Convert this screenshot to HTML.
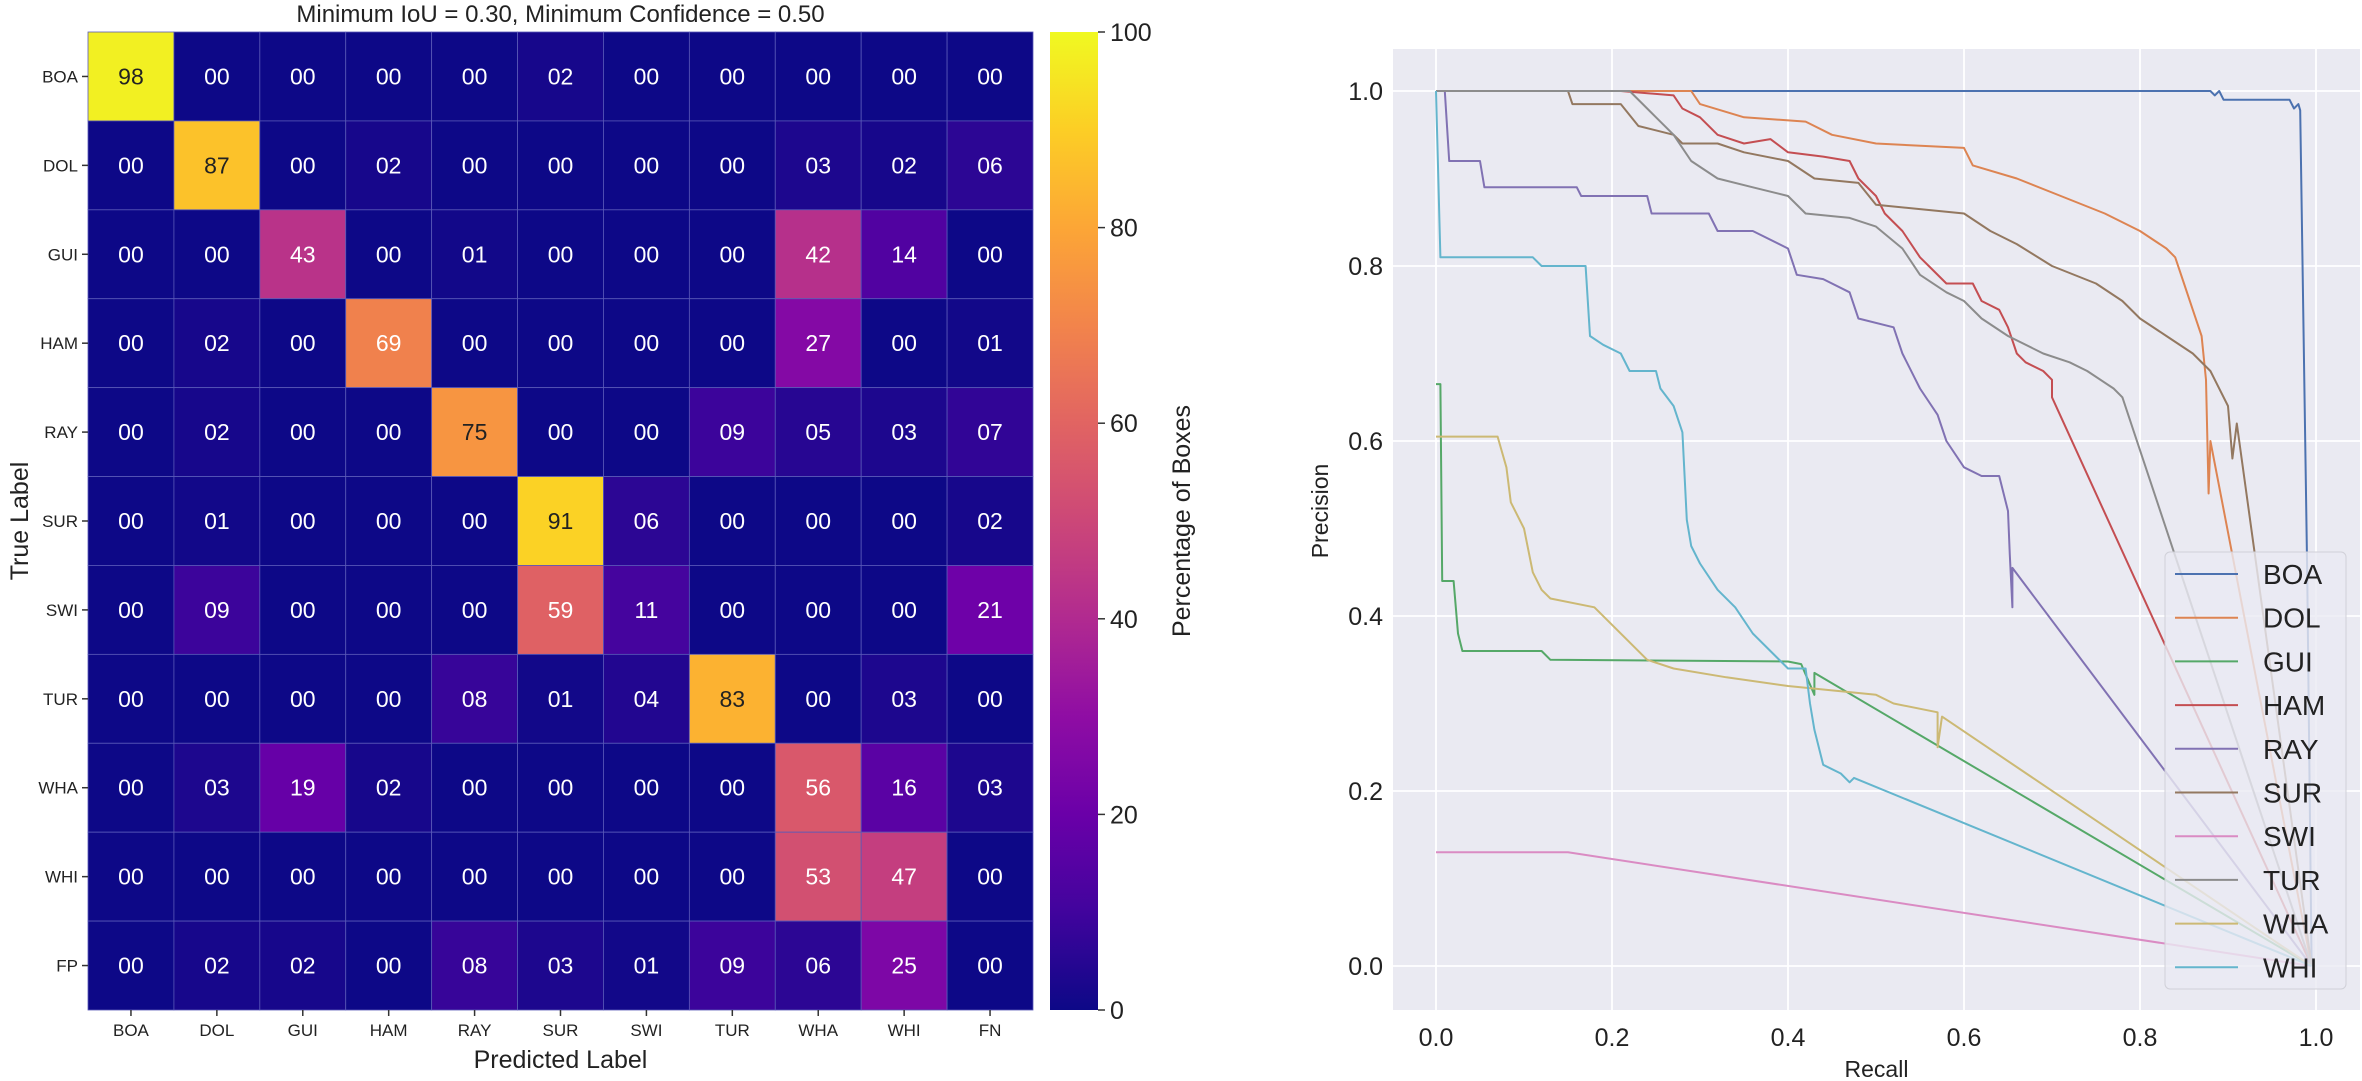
<!DOCTYPE html>
<html><head><meta charset="utf-8"><style>
html,body{margin:0;padding:0;background:#fff;}
svg{display:block;font-family:"Liberation Sans",Arial,sans-serif;}
</style></head><body>
<svg id="fig" width="2362" height="1081" viewBox="0 0 2362 1081" xmlns="http://www.w3.org/2000/svg"></svg>
<script>
const rowLabels=["BOA","DOL","GUI","HAM","RAY","SUR","SWI","TUR","WHA","WHI","FP"];
const colLabels=["BOA","DOL","GUI","HAM","RAY","SUR","SWI","TUR","WHA","WHI","FN"];
const matrix=[
[98,0,0,0,0,2,0,0,0,0,0],
[0,87,0,2,0,0,0,0,3,2,6],
[0,0,43,0,1,0,0,0,42,14,0],
[0,2,0,69,0,0,0,0,27,0,1],
[0,2,0,0,75,0,0,9,5,3,7],
[0,1,0,0,0,91,6,0,0,0,2],
[0,9,0,0,0,59,11,0,0,0,21],
[0,0,0,0,8,1,4,83,0,3,0],
[0,3,19,2,0,0,0,0,56,16,3],
[0,0,0,0,0,0,0,0,53,47,0],
[0,2,2,0,8,3,1,9,6,25,0]];
const cbTicks=[0,20,40,60,80,100];
const prTicks=[0,0.2,0.4,0.6,0.8,1.0];
const seriesNames=["BOA","DOL","GUI","HAM","RAY","SUR","SWI","TUR","WHA","WHI"];
const seriesColors=["#4c72b0","#dd8452","#55a868","#c44e52","#8172b3","#937860","#da8bc3","#8c8c8c","#ccb974","#64b5cd"];
const recallBOA=[0,0.88,0.885,0.89,0.895,0.97,0.975,0.98,0.982,0.99,0.995];
const precBOA=[1,1,0.995,1,0.99,0.99,0.98,0.985,0.978,0.45,0];
const recallDOL=[0,0.29,0.3,0.35,0.42,0.45,0.5,0.6,0.61,0.66,0.71,0.76,0.8,0.83,0.84,0.85,0.86,0.87,0.875,0.878,0.88,0.995];
const precDOL=[1,1,0.985,0.97,0.965,0.95,0.94,0.935,0.915,0.9,0.88,0.86,0.84,0.82,0.81,0.78,0.75,0.72,0.67,0.54,0.6,0];
const recallGUI=[0,0.005,0.007,0.02,0.025,0.03,0.12,0.13,0.4,0.415,0.43,0.43,0.995];
const precGUI=[0.665,0.665,0.44,0.44,0.38,0.36,0.36,0.35,0.348,0.345,0.31,0.335,0];
const recallHAM=[0,0.21,0.27,0.28,0.3,0.32,0.35,0.38,0.4,0.44,0.47,0.48,0.5,0.51,0.53,0.55,0.56,0.58,0.61,0.62,0.64,0.65,0.66,0.67,0.69,0.7,0.7,0.995];
const precHAM=[1,1,0.995,0.98,0.97,0.95,0.94,0.945,0.93,0.925,0.92,0.9,0.88,0.86,0.84,0.81,0.8,0.78,0.78,0.76,0.75,0.73,0.7,0.69,0.68,0.67,0.65,0];
const recallRAY=[0,0.01,0.015,0.05,0.055,0.16,0.165,0.24,0.245,0.31,0.32,0.36,0.4,0.41,0.44,0.47,0.48,0.52,0.53,0.55,0.57,0.58,0.6,0.62,0.64,0.65,0.652,0.655,0.655,0.995];
const precRAY=[1,1,0.92,0.92,0.89,0.89,0.88,0.88,0.86,0.86,0.84,0.84,0.82,0.79,0.785,0.77,0.74,0.73,0.7,0.66,0.63,0.6,0.57,0.56,0.56,0.52,0.47,0.41,0.455,0];
const recallSUR=[0,0.15,0.155,0.21,0.23,0.27,0.28,0.32,0.35,0.4,0.43,0.48,0.5,0.55,0.6,0.63,0.66,0.7,0.75,0.78,0.8,0.83,0.86,0.88,0.9,0.905,0.91,0.995];
const precSUR=[1,1,0.985,0.985,0.96,0.95,0.94,0.94,0.93,0.92,0.9,0.895,0.87,0.865,0.86,0.84,0.825,0.8,0.78,0.76,0.74,0.72,0.7,0.68,0.64,0.58,0.62,0];
const recallSWI=[0,0.15,0.995];
const precSWI=[0.13,0.13,0];
const recallTUR=[0,0.22,0.25,0.27,0.29,0.32,0.36,0.4,0.42,0.47,0.5,0.53,0.55,0.58,0.6,0.62,0.65,0.69,0.72,0.74,0.77,0.78,0.995];
const precTUR=[1,1,0.97,0.95,0.92,0.9,0.89,0.88,0.86,0.855,0.845,0.82,0.79,0.77,0.76,0.74,0.72,0.7,0.69,0.68,0.66,0.65,0];
const recallWHA=[0,0.07,0.08,0.085,0.1,0.11,0.12,0.13,0.18,0.2,0.22,0.24,0.27,0.33,0.4,0.5,0.52,0.57,0.57,0.575,0.995];
const precWHA=[0.605,0.605,0.57,0.53,0.5,0.45,0.43,0.42,0.41,0.39,0.37,0.35,0.34,0.33,0.32,0.31,0.3,0.29,0.25,0.285,0];
const recallWHI=[0,0.005,0.11,0.12,0.17,0.175,0.19,0.21,0.22,0.25,0.255,0.27,0.28,0.285,0.29,0.3,0.32,0.34,0.36,0.38,0.4,0.42,0.425,0.43,0.44,0.46,0.47,0.475,0.995];
const precWHI=[1,0.81,0.81,0.8,0.8,0.72,0.71,0.7,0.68,0.68,0.66,0.64,0.61,0.51,0.48,0.46,0.43,0.41,0.38,0.36,0.34,0.34,0.30,0.27,0.23,0.22,0.21,0.215,0];
const recalls=[recallBOA,recallDOL,recallGUI,recallHAM,recallRAY,recallSUR,recallSWI,recallTUR,recallWHA,recallWHI];
const precs=[precBOA,precDOL,precGUI,precHAM,precRAY,precSUR,precSWI,precTUR,precWHA,precWHI];

const NS="http://www.w3.org/2000/svg";
const svg=document.getElementById('fig');
function mk(tag,attrs,parent,text){const e=document.createElementNS(NS,tag);for(const k in attrs)e.setAttribute(k,attrs[k]);if(text!==undefined)e.textContent=text;(parent||svg).appendChild(e);return e;}
const plasmaStops=["#0d0887","#41049d","#6a00a8","#8f0da4","#b12a90","#cc4778","#e16462","#f2844b","#fca636","#fcce25","#f0f921"];
function hex(h){return [parseInt(h.substr(1,2),16),parseInt(h.substr(3,2),16),parseInt(h.substr(5,2),16)];}
function plasma(t){t=Math.max(0,Math.min(1,t));const p=t*10,i=Math.min(9,Math.floor(p)),f=p-i;const a=hex(plasmaStops[i]),b=hex(plasmaStops[i+1]);return `rgb(${a.map((v,k)=>Math.round(v+(b[k]-v)*f)).join(',')})`;}

// ---- Heatmap ----
const hx0=88,hx1=1033,hy0=32,hy1=1010;
const cw=(hx1-hx0)/colLabels.length, ch=(hy1-hy0)/rowLabels.length;
const hm=mk('g',{},svg);


matrix.forEach((row,r)=>row.forEach((v,c)=>{
  const rc=mk('rect',{x:hx0+c*cw,y:hy0+r*ch,width:cw,height:ch,fill:plasma(v/100),stroke:'#5a5ab8','stroke-width':0.8},hm);
  
  
  const t=mk('text',{x:hx0+(c+0.5)*cw,y:hy0+(r+0.5)*ch+8,'text-anchor':'middle','font-size':23,fill:v>70?'#222':'#fff'},hm,String(v).padStart(2,'0'));
  
  
}));
rowLabels.forEach((l,r)=>{const y=hy0+(r+0.5)*ch;mk('line',{x1:hx0-6,x2:hx0,y1:y,y2:y,stroke:'#333','stroke-width':1.5});
 const t=mk('text',{x:hx0-10,y:y+6,'text-anchor':'end','font-size':17,fill:'#222'},svg,l);
 
 });
colLabels.forEach((l,c)=>{const x=hx0+(c+0.5)*cw;mk('line',{x1:x,x2:x,y1:hy1,y2:hy1+6,stroke:'#333','stroke-width':1.5});
 const t=mk('text',{x:x,y:hy1+26,'text-anchor':'middle','font-size':17,fill:'#222'},svg,l);
 
 });
let t;
t=mk('text',{x:(hx0+hx1)/2,y:22,'text-anchor':'middle','font-size':24,fill:'#222'},svg,'Minimum IoU = 0.30, Minimum Confidence = 0.50');

t=mk('text',{x:(hx0+hx1)/2,y:1068,'text-anchor':'middle','font-size':25,fill:'#222'},svg,'Predicted Label');

t=mk('text',{x:0,y:0,'text-anchor':'middle','font-size':25,fill:'#222',transform:`translate(28,${(hy0+hy1)/2}) rotate(-90)`},svg,'True Label');

const defs=mk('defs',{});const lg=mk('linearGradient',{id:'cb',x1:0,y1:1,x2:0,y2:0},defs);
for(let i=0;i<=20;i++)mk('stop',{offset:i/20,'stop-color':plasma(i/20)},lg);
const cbx=1050,cbw=48;
const cb=mk('rect',{x:cbx,y:hy0,width:cbw,height:hy1-hy0,fill:'url(#cb)'});

cbTicks.forEach(v=>{const y=hy1-(v/100)*(hy1-hy0);mk('line',{x1:cbx+cbw,x2:cbx+cbw+7,y1:y,y2:y,stroke:'#333','stroke-width':1.5});
 const tt=mk('text',{x:cbx+cbw+12,y:y+9,'font-size':25,fill:'#222'},svg,String(v));
 });
t=mk('text',{x:0,y:0,'text-anchor':'middle','font-size':25,fill:'#222',transform:`translate(1190,${(hy0+hy1)/2}) rotate(-90)`},svg,'Percentage of Boxes');


// ---- PR curve ----
const ax0=1393,ax1=2360,ay0=49,ay1=1010;
const X=v=>1436+v*880, Y=v=>966-v*875;
const bg=mk('rect',{x:ax0,y:ay0,width:ax1-ax0,height:ay1-ay0,fill:'#eaeaf2'});

prTicks.forEach(v=>{
 mk('line',{x1:X(v),x2:X(v),y1:ay0,y2:ay1,stroke:'#fff','stroke-width':1.8});
 mk('line',{x1:ax0,x2:ax1,y1:Y(v),y2:Y(v),stroke:'#fff','stroke-width':1.8});
 const a=mk('text',{x:X(v),y:1046,'text-anchor':'middle','font-size':25,fill:'#222'},svg,v.toFixed(1));
 
 const b=mk('text',{x:ax0-10,y:Y(v)+9,'text-anchor':'end','font-size':25,fill:'#222'},svg,v.toFixed(1));
 
});
t=mk('text',{x:(ax0+ax1)/2,y:1077,'text-anchor':'middle','font-size':23,fill:'#222'},svg,'Recall');

t=mk('text',{x:0,y:0,'text-anchor':'middle','font-size':23,fill:'#222',transform:`translate(1328,511) rotate(-90)`},svg,'Precision');

seriesNames.forEach((n,i)=>{
 const pts=recalls[i].map((r,k)=>X(r).toFixed(1)+','+Y(precs[i][k]).toFixed(1)).join(' ');
 const pl=mk('polyline',{points:pts,fill:'none',stroke:seriesColors[i],'stroke-width':2,'stroke-linejoin':'round'});
 
 
});
const leg=mk('g',{});


mk('rect',{x:2165,y:552,width:181,height:437,rx:5,fill:'#eaeaf2','fill-opacity':0.8,stroke:'#d0d0d8','stroke-width':1},leg);
seriesNames.forEach((n,i)=>{const y=574+i*43.7;
 mk('line',{x1:2175,x2:2238,y1:y,y2:y,stroke:seriesColors[i],'stroke-width':2},leg);
 const e=mk('text',{x:2263,y:y+10,'font-size':28,fill:'#222'},leg,n);
 
 
});
</script>
</body></html>
